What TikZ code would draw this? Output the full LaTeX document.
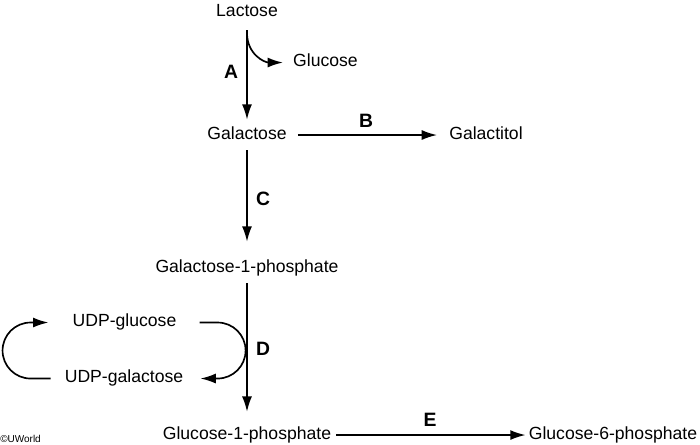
\documentclass[tikz,border=0pt]{standalone}
\usepackage{fontspec}
\setmainfont{Liberation Sans}
\usetikzlibrary{arrows.meta,calc}
\begin{document}
\begin{tikzpicture}[x=0.75pt,y=0.75pt,
  lbl/.style={inner sep=0pt, text height=9.4pt, text depth=2.7pt, anchor=base, font=\fontsize{13.2}{15}\selectfont},
  enz/.style={inner sep=0pt, anchor=base, font=\fontsize{14.5}{16}\selectfont\bfseries},
  arr/.style={line width=1.25pt, -{Latex[length=11.5pt,width=7.5pt]}}]
\useasboundingbox (0,0) rectangle (700,445);
% metabolites
\node[lbl] (lac) at (247,428) {Lactose};
\node[lbl] (glu) at (325.5,378) {Glucose};
\node[lbl] (gal) at (247,305.5) {Galactose};
\node[lbl] (gtol) at (486,305.5) {Galactitol};
\node[lbl] (g1p) at (247,172.5) {Galactose-1-phosphate};
\node[lbl] (ug) at (124.5,118) {UDP-glucose};
\node[lbl] (ugal) at (124,62) {UDP-galactose};
\node[lbl] (glc1p) at (247,5.5) {Glucose-1-phosphate};
\node[lbl] (g6p) at (613,5.5) {Glucose-6-phosphate};
% enzyme labels
\node[enz] (A) at (231,366) {A};
\node[enz] (B) at (366,317) {B};
\node[enz] (C) at (263,239) {C};
\node[enz] (D) at (263,89) {D};
\node[enz] (E) at (430,18) {E};
% copyright
\node[inner sep=0pt, anchor=base west, font=\fontsize{7.5}{9}\selectfont] (cr) at (0,2) {\textcopyright UWorld};
% arrows
\draw[arr,shorten <=7pt,shorten >=5.25pt] (lac.south) -- (gal.north);
\draw[arr] ($(lac.south)+(0,-12)$) .. controls +(0,-22) and +(-18,0) .. ($(glu.west)+(-10,0)$);
\draw[arr,shorten <=8.25pt,shorten >=9pt] (gal.east) -- (gtol.west);
\draw[arr,shorten <=5.2pt,shorten >=13.5pt] (gal.south) -- (g1p.north);
\draw[arr,shorten <=5.2pt,shorten >=11.2pt] (g1p.south) -- (glc1p.north);
\draw[arr,shorten <=3.75pt,shorten >=2.25pt] (glc1p.east) -- (g6p.west);
% D side curve
\draw[arr] ($(ug.east)+(23,0)$) -- ++(18,0) arc[start angle=90,end angle=-90,radius=21pt] -- ($(ugal.east)+(17,0)$);
% left loop
\draw[arr] ($(ugal.west)+(-14,0)$) -- ++(-20,0) arc[start angle=270,end angle=90,radius=21pt] -- ($(ug.west)+(-24,0)$);
\end{tikzpicture}
\end{document}
